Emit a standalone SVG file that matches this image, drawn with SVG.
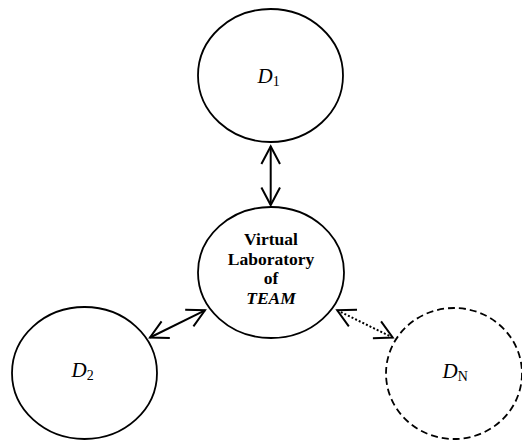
<svg xmlns="http://www.w3.org/2000/svg" width="522" height="440" viewBox="0 0 522 440">
<style>
.node{fill:#fff;stroke:#000;stroke-width:1.8}
.dash{stroke-dasharray:7 4}
.lbl{font-style:italic;font-size:21px;fill:#000}
.sub{font-style:normal;font-size:14px}
.ctr{font-weight:bold;font-size:17.5px;fill:#000;text-anchor:middle}
.conn{fill:none;stroke:#000;stroke-width:2}
.dot{stroke-dasharray:2 2}
</style>
<defs>
<marker id="arr" markerUnits="userSpaceOnUse" viewBox="-20 -12 24 24" refX="0" refY="0" markerWidth="24" markerHeight="24" orient="auto-start-reverse" overflow="visible">
<path d="M-17.5,-9.3 L0,0 L-17.5,9.3" fill="none" stroke="#000" stroke-width="2" stroke-dasharray="none"/>
</marker>
</defs>
<g id="connectors">
<line class="conn" x1="270.7" y1="146.5" x2="270.7" y2="205" marker-start="url(#arr)" marker-end="url(#arr)"/>
<line class="conn" x1="150" y1="337.5" x2="205" y2="310.3" marker-start="url(#arr)" marker-end="url(#arr)"/>
<line class="conn dot" x1="337.2" y1="310.3" x2="392.7" y2="337.5" marker-start="url(#arr)" marker-end="url(#arr)"/>
</g>
<g font-family="Liberation Serif, Times New Roman, DejaVu Serif, serif">
<g id="D1">
<ellipse class="node" cx="270.5" cy="75.5" rx="72.5" ry="66.5"/>
<text class="lbl" x="257.5" y="83">D<tspan class="sub" dy="3">1</tspan></text>
</g>
<g id="VL">
<ellipse class="node" cx="271" cy="272.5" rx="73" ry="65.5"/>
<text class="ctr" x="271" y="245">Virtual</text>
<text class="ctr" x="271" y="264.5">Laboratory</text>
<text class="ctr" x="271" y="284">of</text>
<text class="ctr" x="271" y="303.5" font-style="italic">TEAM</text>
</g>
<g id="D2">
<ellipse class="node" cx="84.5" cy="373" rx="72.5" ry="66"/>
<text class="lbl" x="71.5" y="377">D<tspan class="sub" dy="3">2</tspan></text>
</g>
<g id="DN">
<ellipse class="node dash" cx="454" cy="373.5" rx="68" ry="65.5"/>
<text class="lbl" x="442.5" y="378">D<tspan class="sub" dy="3">N</tspan></text>
</g>
</g>
</svg>
